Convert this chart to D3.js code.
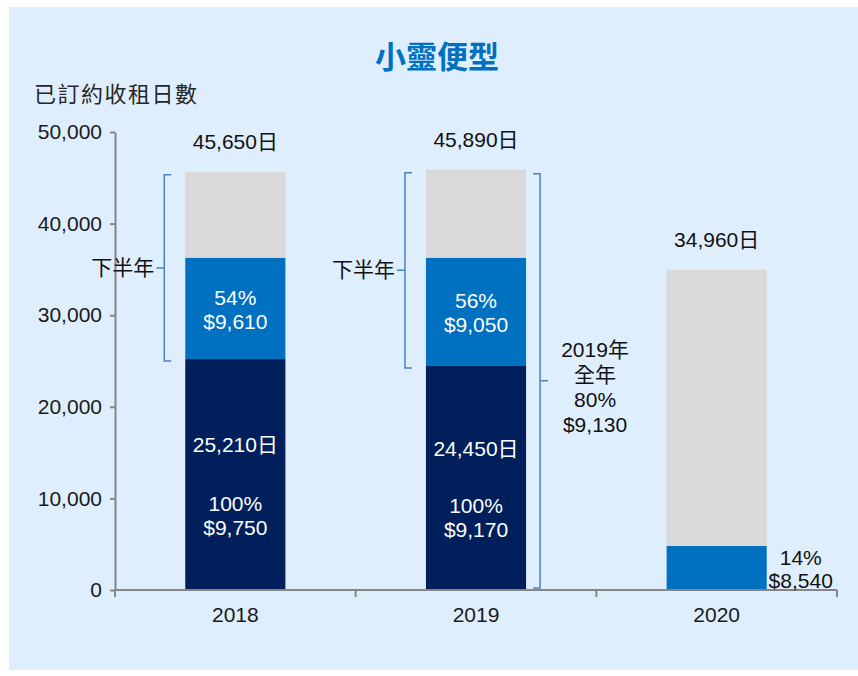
<!DOCTYPE html>
<html>
<head>
<meta charset="utf-8">
<script src="https://cdn.jsdelivr.net/npm/d3@7"></script>
<style>
  body { margin: 0; background: #ffffff; }
  svg text { font-family: "Liberation Sans", Arial, "Noto Sans CJK TC", sans-serif; }
</style>
</head>
<body>
<div id="chart"></div>
<script>
// Chart data
var years = ["2018", "2019", "2020"];
var firstHalfDays = [25210, 24450, 0];      // dark segment
var secondHalfDays = [11040, 11800, 4800];  // blue segment
var totalDays = [45650, 45890, 34960];      // full bar height
var totalLabels = ["45,650日", "45,890日", "34,960日"];
var firstHalfLabels = [["25,210日", "100%", "$9,750"], ["24,450日", "100%", "$9,170"], null];
var secondHalfLabels = [["54%", "$9,610"], ["56%", "$9,050"], ["14%", "$8,540"]];
var yTicks = [0, 10000, 20000, 30000, 40000, 50000];
var fullYearNote = ["2019年", "全年", "80%", "$9,130"];

var width = 858, height = 676;
var navy = "#001f5b", blue = "#0070c0", grey = "#d9d9d9", bracketColor = "#4f81bd";
var fs = "21px";

var svg = d3.select("#chart").append("svg")
  .attr("width", width)
  .attr("height", height);

// light blue panel
svg.append("rect")
  .attr("x", 9).attr("y", 7)
  .attr("width", width - 9).attr("height", 663)
  .attr("fill", "#dfeefd");

var x = d3.scaleBand()
  .domain(years)
  .range([115, 837])
  .paddingInner(0.584)
  .paddingOuter(0.292);

var y = d3.scaleLinear()
  .domain([0, 50000])
  .range([590, 132]);

// title + y title
svg.append("text")
  .attr("x", 437).attr("y", 68)
  .attr("text-anchor", "middle")
  .attr("fill", blue)
  .style("font-size", "31px")
  .style("font-weight", "bold")
  .style("font-family", "'Noto Sans CJK TC', sans-serif")
  .text("小靈便型");

svg.append("text")
  .attr("x", 34).attr("y", 102)
  .attr("fill", "#262626")
  .style("font-size", "22px")
  .style("letter-spacing", "1.5px")
  .style("font-family", "'Noto Sans CJK TC', sans-serif")
  .text("已訂約收租日數");

// bars
var bars = svg.append("g");
years.forEach(function(yr, i) {
  var bx = x(yr), bw = x.bandwidth();
  var h1 = firstHalfDays[i], h2 = h1 + secondHalfDays[i], tot = totalDays[i];
  bars.append("rect").attr("x", bx).attr("width", bw)
    .attr("y", y(tot)).attr("height", y(h2) - y(tot)).attr("fill", grey);
  bars.append("rect").attr("x", bx).attr("width", bw)
    .attr("y", y(h2)).attr("height", y(h1) - y(h2)).attr("fill", blue);
  if (h1 > 0) {
    bars.append("rect").attr("x", bx).attr("width", bw)
      .attr("y", y(h1)).attr("height", y(0) - y(h1)).attr("fill", navy);
  }
});

// y axis
var yAxis = svg.append("g")
  .attr("transform", "translate(115,0)")
  .call(d3.axisLeft(y).tickValues(yTicks).tickSize(5).tickSizeOuter(0).tickPadding(8)
    .tickFormat(d3.format(",")));
yAxis.select(".domain").attr("stroke", "#868686").attr("stroke-width", 2);
yAxis.selectAll(".tick line").attr("stroke", "#868686").attr("stroke-width", 2);
yAxis.selectAll("text").attr("fill", "#1a1a1a").style("font-size", fs)
  .style("font-family", "'Liberation Sans', Arial, sans-serif");

// x axis
var xAxis = svg.append("g")
  .attr("transform", "translate(0,590)")
  .call(d3.axisBottom(x).tickSize(0).tickPadding(17));
xAxis.select(".domain").remove();
xAxis.selectAll("text").attr("fill", "#1a1a1a").style("font-size", fs)
  .style("font-family", "'Liberation Sans', Arial, sans-serif");
xAxis.append("line")
  .attr("x1", x.range()[0]).attr("x2", x.range()[1])
  .attr("stroke", "#868686").attr("stroke-width", 2);
d3.range(years.length + 1).forEach(function(k) {
  var bxk = x.range()[0] + k * x.step();
  xAxis.append("line")
    .attr("x1", bxk).attr("x2", bxk).attr("y1", 0).attr("y2", 7)
    .attr("stroke", "#868686").attr("stroke-width", 2);
});

// labels
function multiline(g, lines, cx, cy, gap, color) {
  var t = g.append("text")
    .attr("text-anchor", "middle")
    .attr("fill", color)
    .style("font-size", fs);
  lines.forEach(function(s, k) {
    t.append("tspan")
      .attr("x", cx)
      .attr("y", cy + (k - (lines.length - 1) / 2) * gap + 7)
      .text(s);
  });
}

var labels = svg.append("g");
years.forEach(function(yr, i) {
  var cx = x(yr) + x.bandwidth() / 2;
  var h1 = firstHalfDays[i], h2 = h1 + secondHalfDays[i];
  multiline(labels, [totalLabels[i]], cx, y(totalDays[i]) - 30, 24, "#111");
  if (firstHalfLabels[i]) {
    var seg = y(0) - y(h1);
    multiline(labels, [firstHalfLabels[i][0]], cx, y(h1) + seg * 0.37, 24, "#ffffff");
    multiline(labels, firstHalfLabels[i].slice(1), cx, y(h1) + seg * 0.68, 24, "#ffffff");
    multiline(labels, secondHalfLabels[i], cx, (y(h1) + y(h2)) / 2 + 1, 24, "#ffffff");
  } else {
    multiline(labels, secondHalfLabels[i], x(yr) + x.bandwidth() + 34, (y(h1) + y(h2)) / 2 + 1, 23, "#111");
  }
});

// brackets
function bracket(g, bx, yTop, yBot, dir) {
  // dir = -1 : bracket on the left of a bar, 1 : on the right
  var yMid = (yTop + yBot) / 2;
  g.append("path")
    .attr("d", "M" + (bx - dir * 7) + "," + yTop + "H" + bx + "V" + yBot + "H" + (bx - dir * 7) +
      "M" + bx + "," + yMid + "H" + (bx + dir * 8))
    .attr("fill", "none")
    .attr("stroke", bracketColor)
    .attr("stroke-width", 1.5);
  return yMid;
}

var br = svg.append("g");
[0, 1].forEach(function(i) {
  var yr = years[i];
  var bx = x(yr) - 21;
  var yMid = bracket(br, bx, y(totalDays[i]) + 3, y(firstHalfDays[i]) + 2, -1);
  br.append("text")
    .attr("x", bx - 10).attr("y", yMid + 7)
    .attr("text-anchor", "end")
    .attr("fill", "#111")
    .style("font-size", fs)
    .style("font-family", "'Noto Sans CJK TC', sans-serif")
    .text("下半年");
});

// full year bracket for 2019
var bx19 = x(years[1]) + x.bandwidth() + 14;
bracket(br, bx19, y(totalDays[1]) + 4, y(0) - 2, 1);
multiline(br, fullYearNote, bx19 + 55, 387, 25, "#111");
</script>
</body>
</html>
